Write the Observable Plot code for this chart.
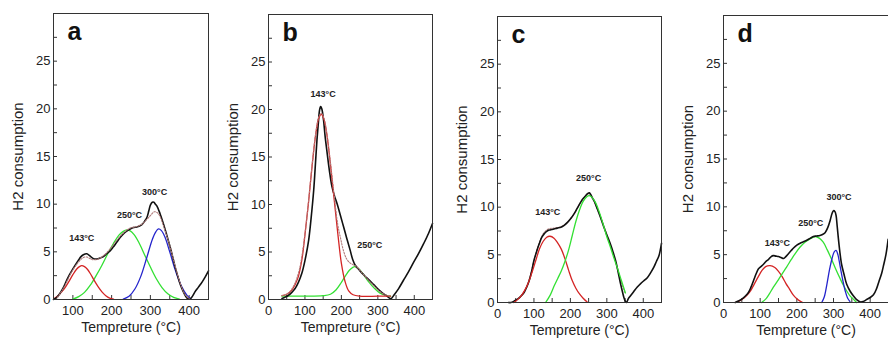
<!DOCTYPE html>
<html><head><meta charset="utf-8">
<script src="https://cdn.jsdelivr.net/npm/d3@7"></script>
<script src="https://cdn.jsdelivr.net/npm/@observablehq/plot@0.6"></script>
<style>
html,body{margin:0;padding:0;background:#fff;overflow:hidden}
#wrap{position:relative;width:888px;height:342px;overflow:hidden;background:#fff}
.panel{position:absolute;top:0}
.panel svg{max-width:none !important}
</style></head><body><div id="wrap"></div>
<script>
// ---------- data (temperature °C, H2 consumption) ----------
const yTicks = [0,2.5,5,7.5,10,12.5,15,17.5,20,22.5,25,27.5];
const xTicksA = [50,100,150,200,250,300,350,400,450];
const xTicksBCD = [0,50,100,150,200,250,300,350,400,450];
const peakNames = ["143°C","250°C","300°C"];

const aBlack = [[50,0],[58,0.2],[66,0.6],[76,1.3],[86,2.2],[97,3.0],[106,3.6],[114,4.1],[121,4.5],[127,4.7],[136,4.8],[143,4.6],[149,4.4],[156,4.25],[162,4.25],[170,4.35],[179,4.5],[187,4.8],[196,5.1],[204,5.5],[213,6.0],[222,6.5],[231,6.9],[240,7.2],[248,7.4],[257,7.55],[265,7.6],[272,7.7],[278,7.85],[285,8.2],[291,8.6],[296,9.3],[300,9.9],[305,10.2],[309,10.2],[313,10.0],[317,9.8],[325,9.0],[334,7.9],[342,6.8],[351,5.5],[358,4.4],[364,3.4],[371,2.4],[377,1.6],[384,0.9],[390,0.4],[396,0.1],[402,0.05],[408,0.3],[415,0.8],[424,1.3],[433,1.8],[442,2.4],[450,3.0]];
const aFit = [[60,0.2],[76,1.2],[97,2.9],[114,3.9],[127,4.4],[136,4.45],[149,4.2],[162,4.2],[179,4.6],[196,5.3],[213,6.2],[231,7.0],[248,7.5],[265,7.65],[278,7.9],[291,8.4],[300,8.8],[310,9.2],[318,9.1],[325,8.7],[334,7.7],[351,5.5],[364,3.5],[377,1.7],[390,0.5],[400,0.1]];
const aRed = [[50,0.05],[60,0.35],[70,0.75],[80,1.25],[90,1.9],[100,2.6],[110,3.2],[117,3.45],[123,3.55],[130,3.45],[138,3.15],[146,2.65],[155,2.0],[165,1.35],[175,0.8],[185,0.4],[195,0.15],[205,0.03]];
const aGreen = [[100,0.05],[115,0.3],[130,0.75],[145,1.5],[160,2.5],[175,3.6],[190,4.8],[205,5.9],[220,6.8],[230,7.15],[239,7.3],[248,7.2],[258,6.8],[270,6.0],[285,4.7],[300,3.4],[315,2.2],[330,1.25],[345,0.6],[360,0.22],[375,0.05]];
const aBlue = [[230,0.05],[245,0.35],[260,1.1],[275,2.4],[290,4.3],[305,6.3],[314,7.1],[321,7.4],[328,7.25],[337,6.6],[350,5.0],[365,3.0],[380,1.4],[395,0.4],[405,0.05]];
const aPeakX = [123,246,311];
const aPeakY = [6.4,8.86,11.3];

const bBlack = [[37,0.1],[46,0.25],[55,0.45],[64,0.75],[73,1.15],[82,1.8],[91,2.7],[100,4.1],[110,6.2],[117,8.6],[124,11.5],[128,13.8],[133,16.8],[137,18.7],[140,19.9],[143,20.3],[146,20.1],[151,18.9],[155,17.3],[160,15.7],[167,13.6],[174,11.9],[181,10.9],[188,10.1],[197,8.9],[206,7.65],[215,6.4],[224,5.2],[231,4.2],[238,3.6],[247,3.2],[256,2.8],[265,2.45],[275,2.1],[288,1.6],[302,1.05],[314,0.65],[325,0.35],[334,0.1],[337,0.1],[345,0.5],[357,1.15],[370,2.0],[384,2.9],[398,3.9],[412,4.85],[426,5.9],[439,6.95],[450,8.0]];
const bFit = [[37,0.4],[55,0.7],[70,1.5],[85,3.2],[100,6.9],[110,10.4],[120,14.3],[130,17.6],[138,19.2],[145,19.6],[152,19.1],[160,17.5],[170,14.4],[180,11.0],[190,7.9],[198,6.4],[206,5.1],[214,4.3],[222,3.9],[230,3.7],[238,3.55],[248,3.2],[260,2.65],[275,2.0],[290,1.4],[305,0.85],[320,0.5],[335,0.35]];
const bRed = [[37,0.4],[50,0.55],[65,1.05],[80,2.2],[92,4.3],[100,6.8],[110,10.3],[120,14.2],[130,17.5],[138,19.1],[145,19.5],[152,19.0],[160,17.4],[170,14.2],[180,10.6],[190,7.0],[200,3.8],[210,1.9],[220,0.9],[232,0.5],[250,0.35],[300,0.35],[335,0.35]];
const bGreen = [[37,0.35],[100,0.35],[150,0.4],[170,0.55],[185,1.0],[200,1.8],[212,2.55],[224,3.15],[236,3.45],[248,3.2],[260,2.65],[275,1.85],[290,1.2],[305,0.7],[320,0.45],[335,0.35]];
const bPeakX = [150,278];
const bPeakY = [21.6,5.7];

const cBlack = [[30,0],[37,0],[46,0.15],[55,0.35],[64,0.65],[73,1.05],[80,1.6],[87,2.3],[94,3.3],[100,4.4],[107,5.3],[114,6.1],[121,6.8],[128,7.2],[135,7.45],[142,7.6],[149,7.65],[155,7.7],[164,7.8],[174,7.9],[183,8.1],[192,8.4],[201,8.8],[210,9.3],[219,9.9],[228,10.5],[235,10.9],[242,11.2],[248,11.45],[252,11.5],[256,11.3],[260,11.0],[267,10.5],[274,9.8],[283,8.9],[292,7.9],[301,7.0],[310,6.1],[317,5.3],[324,4.4],[331,3.2],[338,1.9],[343,1.1],[347,0.5],[351,0.1],[354,0],[359,0.4],[365,0.7],[374,1.15],[383,1.6],[392,1.95],[402,2.3],[411,2.6],[420,3.1],[429,3.7],[436,4.3],[443,4.9],[450,6.2]];
const cFit = [[60,0.45],[80,1.6],[100,4.4],[114,6.2],[128,7.35],[142,7.75],[155,7.8],[174,7.95],[192,8.4],[210,9.3],[228,10.5],[245,11.3],[252,11.4],[265,10.6],[283,8.9],[301,7.0],[320,4.8],[338,2.3],[350,1.0]];
const cRed = [[45,0],[55,0.3],[65,0.7],[75,1.3],[85,2.1],[95,3.2],[105,4.4],[115,5.6],[125,6.4],[135,6.85],[144,6.95],[155,6.75],[165,6.25],[175,5.6],[185,4.6],[195,3.4],[205,2.3],[215,1.5],[225,0.9],[235,0.45],[246,0.05]];
const cGreen = [[132,0],[145,0.8],[155,1.7],[165,2.5],[175,3.3],[185,4.3],[195,5.5],[205,7.0],[215,8.5],[225,9.7],[235,10.6],[245,11.1],[252,11.2],[260,11.0],[270,10.4],[280,9.4],[290,8.2],[300,6.9],[310,5.8],[320,4.6],[330,3.5],[340,2.3],[351,1.0]];
const cPeakX = [138,250];
const cPeakY = [9.44,13.05];

const dBlack = [[32,0],[41,0.15],[50,0.35],[59,0.65],[68,1.05],[75,1.6],[82,2.3],[89,3.0],[95,3.5],[102,3.75],[109,4.0],[116,4.3],[123,4.5],[130,4.8],[136,4.9],[143,4.85],[150,4.8],[157,4.7],[164,4.6],[170,4.8],[177,5.1],[184,5.4],[191,5.7],[200,6.0],[209,6.2],[218,6.35],[227,6.5],[236,6.7],[245,6.9],[254,6.95],[263,7.0],[270,7.1],[277,7.3],[284,7.8],[291,8.6],[296,9.3],[300,9.6],[304,9.5],[307,9.1],[310,8.0],[313,6.8],[317,5.4],[322,4.0],[329,2.9],[336,1.9],[345,1.2],[354,0.7],[363,0.3],[372,0.07],[381,0.1],[390,0.3],[399,0.5],[409,0.8],[418,1.5],[424,2.2],[431,3.0],[436,3.8],[443,5.0],[449,6.6]];
const dRed = [[32,0],[45,0.2],[55,0.45],[65,0.8],[75,1.3],[85,2.0],[95,2.7],[105,3.35],[115,3.75],[127,3.85],[140,3.65],[150,3.25],[160,2.7],[170,2.0],[180,1.4],[190,0.8],[200,0.4],[210,0.12],[216,0]];
const dGreen = [[104,0],[115,0.35],[125,0.9],[136,1.6],[150,2.4],[160,3.0],[172,3.7],[185,4.5],[197,5.2],[209,5.8],[222,6.3],[236,6.65],[250,6.9],[262,6.7],[272,6.3],[283,5.5],[295,4.5],[306,3.5],[318,2.5],[327,1.8],[336,1.2],[345,0.7],[354,0.35],[363,0]];
const dBlue = [[268,0],[275,0.6],[282,1.9],[289,3.4],[296,4.6],[302,5.3],[307,5.45],[312,5.0],[318,3.8],[325,2.4],[332,1.2],[338,0.5],[345,0.1]];
const dPeakX = [147,238,315];
const dPeakY = [6.19,8.29,11.0];

// ---------- drawing ----------
const FONT = '"Liberation Sans", Arial, sans-serif';
const COLORS = {black: "#111", fit: "#b07a7a", red: "#d42424", green: "#33e033", blue: "#2424cc"};

function peaks(xs, ys) { return xs.map((x, i) => ({x, y: ys[i], t: peakNames[i]})); }

function panel(cfg) {
  const lines = cfg.series.map(s => Plot.line(s.data, {
    x: d => d[0], y: d => d[1], stroke: COLORS[s.kind],
    strokeWidth: s.kind === "black" ? 1.6 : s.kind === "fit" ? 1.1 : 1.3,
    strokeDasharray: s.kind === "fit" ? "1.5,1.5" : null,
    curve: "catmull-rom"
  }));
  return Plot.plot({
    width: cfg.width, height: 342,
    marginLeft: cfg.ml, marginRight: cfg.mr, marginTop: cfg.mt, marginBottom: cfg.mb,
    x: {domain: cfg.xDomain},
    y: {domain: [0, 30]},
    style: {fontFamily: FONT, fontSize: "13px", color: "#222", background: "transparent", overflow: "visible", maxWidth: "none"},
    marks: [
      Plot.axisX({ticks: cfg.xTicks, tickSize: -4, tickPadding: 10, tickFormat: d => d % 100 === 0 ? String(d) : "", label: null, stroke: "#333", fontSize: 13}),
      Plot.axisY({ticks: yTicks, tickSize: -4, tickPadding: 7, tickFormat: d => d % 5 === 0 ? String(d) : "", label: null, stroke: "#333", fontSize: 13}),
      ...lines,
      Plot.frame({stroke: "#333", strokeWidth: 1}),
      Plot.text(cfg.peaks, {x: "x", y: "y", text: "t", fontWeight: "bold", fontSize: 9, fill: "#222"}),
      Plot.text([cfg.letter], {text: d => d, frameAnchor: "top-left", lineAnchor: "top", textAnchor: "start", dx: 14, dy: 9, fontSize: 25, fontWeight: "bold", fill: "#111"}),
      Plot.text(["H2 consumption"], {text: d => d, frameAnchor: "left", textAnchor: "middle", lineAnchor: "middle", rotate: -90, dx: -35, fontSize: 15, fill: "#222"}),
      Plot.text(["Tempreture (°C)"], {text: d => d, frameAnchor: "bottom", textAnchor: "middle", lineAnchor: "middle", dy: 28, fontSize: 14, fill: "#222"})
    ]
  });
}

const panels = [
  {left: 0, width: 222, ml: 53, mr: 14, mt: 13, mb: 43, xDomain: [50, 450], xTicks: xTicksA, letter: "a",
   series: [{kind: "green", data: aGreen}, {kind: "blue", data: aBlue}, {kind: "red", data: aRed}, {kind: "black", data: aBlack}, {kind: "fit", data: aFit}],
   peaks: peaks(aPeakX, aPeakY)},
  {left: 222, width: 222, ml: 46, mr: 12, mt: 14, mb: 43, xDomain: [0, 450], xTicks: xTicksBCD, letter: "b",
   series: [{kind: "green", data: bGreen}, {kind: "black", data: bBlack}, {kind: "red", data: bRed}, {kind: "fit", data: bFit}],
   peaks: peaks(bPeakX, bPeakY)},
  {left: 444, width: 222, ml: 53, mr: 5, mt: 16, mb: 40, xDomain: [0, 450], xTicks: xTicksBCD, letter: "c",
   series: [{kind: "fit", data: cFit}, {kind: "black", data: cBlack}, {kind: "red", data: cRed}, {kind: "green", data: cGreen}],
   peaks: peaks(cPeakX, cPeakY)},
  {left: 666, width: 232, ml: 57, mr: 10, mt: 15, mb: 40, xDomain: [0, 450], xTicks: xTicksBCD, letter: "d",
   series: [{kind: "red", data: dRed}, {kind: "green", data: dGreen}, {kind: "blue", data: dBlue}, {kind: "black", data: dBlack}],
   peaks: peaks(dPeakX, dPeakY)}
];

const wrap = document.getElementById("wrap");
for (const p of panels) {
  const div = document.createElement("div");
  div.className = "panel";
  div.style.left = p.left + "px";
  div.style.width = p.width + "px";
  div.appendChild(panel(p));
  wrap.appendChild(div);
}
</script>
</body></html>
